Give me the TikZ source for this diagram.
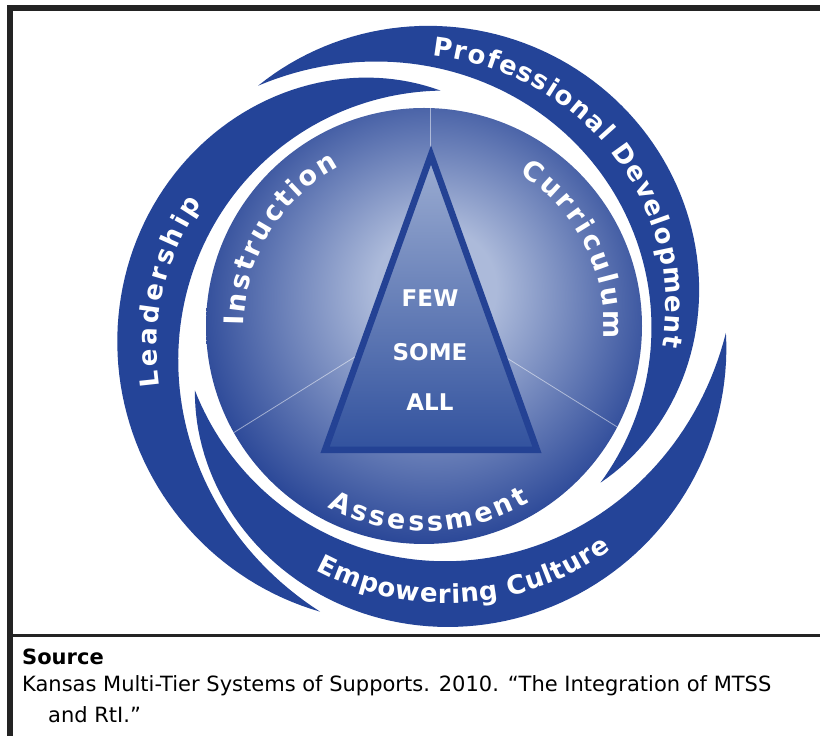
\documentclass[tikz,border=0pt]{standalone}
\usepackage{fontspec}
\setmainfont{DejaVu Sans}
\usetikzlibrary{decorations.text}
\definecolor{bandblue}{RGB}{36,68,152}
\definecolor{discdark}{RGB}{32,62,146}
\definecolor{disclight}{RGB}{172,186,218}
\definecolor{triatop}{RGB}{156,173,210}
\definecolor{triabot}{RGB}{50,82,158}
\definecolor{trialine}{RGB}{36,66,148}
\definecolor{framegray}{RGB}{35,35,35}
\pgfdeclareradialshading{discglow}{\pgfpoint{1.5bp}{5bp}}{color(0bp)=(disclight); color(7bp)=(disclight); color(29bp)=(discdark); color(50bp)=(discdark)}
\newcommand\ringfont{\fontsize{27}{27}\selectfont\bfseries}
\newcommand\bandfont{\fontsize{26}{26}\selectfont\bfseries}
\begin{document}
\begin{tikzpicture}[x=1pt,y=1pt,
    ringtext/.style={decorate,decoration={text along path,text={#1},
        text color=white,text align={fit to path}}},
    tierlabel/.style={text=white,font=\fontsize{23}{23}\selectfont\bfseries}]
  \useasboundingbox[fill=white] (0,0) rectangle (820,736);%

  % frame and caption
  \fill[framegray] (7,0) rectangle (13,731);%
  \fill[framegray] (7,725) rectangle (820,731);%
  \fill[framegray] (13,99) rectangle (820,101.5);%
  \node[anchor=base west,inner sep=0pt,font=\fontsize{21}{25}\selectfont\bfseries] (src) at (22,71) {Source};%
  \node[anchor=base west,inner sep=0pt,font=\fontsize{21}{25}\selectfont] (cite1) at (22,44) {Kansas Multi-Tier Systems of Supports. 2010. “The Integration of MTSS};%
  \node[anchor=base west,inner sep=0pt,font=\fontsize{21}{25}\selectfont] (cite2) at (48,13) {and RtI.”};%

  \begin{scope}[shift={(424,410)}]
    % swoosh bands: start angle / span / start radius / end radius / width
    \foreach \bstart/\bspan/\rbeg/\rend/\bwid in {86/164/236/304/64,195.7/163/238/302/66,-41.6/166.2/236/292/60}
      \fill[bandblue] plot[domain=0:1,samples=90] ({\bstart+\bspan*\x}:{\rbeg+(\rend-\rbeg)*\x+2*\bwid*\x*(1-\x)})
        -- plot[domain=1:0,samples=90] ({\bstart+\bspan*\x}:{\rbeg+(\rend-\rbeg)*\x-2*\bwid*\x*(1-\x)}) -- cycle;%

    % inner disc
    \shade[shading=discglow] (0,0) circle (218);%
    \begin{scope}
      \clip (0,0) circle (218);%
      \foreach \ang in {90,212,328}
        \draw[white,opacity=.5,line width=.8] (6,16) -- ++(\ang:300);%
    \end{scope}

    % pyramid
    \shade[top color=triatop,bottom color=triabot,draw=trialine,line width=6.5,line join=miter]
      (7,171) -- (-99,-124) -- (113,-124) -- cycle;%
    \node[tierlabel] (few) at (6,28) {FEW};%
    \node[tierlabel] (some) at (6,-26) {SOME};%
    \node[tierlabel] (all) at (6,-76) {ALL};%

    % ring labels
    \path[ringtext={|\ringfont|Instruction}] (180:180) arc[start angle=180,end angle=118,radius=180];%
    \path[ringtext={|\ringfont|Curriculum}] (58:180) arc[start angle=58,end angle=-4,radius=180];%
    \path[ringtext={|\ringfont|Assessment}] (242:205) arc[start angle=242,end angle=301,radius=205];%

    % band labels
    \path[ringtext={|\bandfont|Leadership}] plot[domain=0.652:0.396,samples=40] ({86+164*\x}:{236+68*\x-9});%
    \path[ringtext={|\bandfont|Professional Development}] plot[domain=0.781:0.22,samples=60] ({-41.6+166.2*\x}:{236+56*\x-9});%
    \path[ringtext={|\bandfont|Empowering Culture}] plot[domain=0.309:0.701,samples=40] ({195.7+163*\x}:{238+64*\x+9});%
  \end{scope}
\end{tikzpicture}
\end{document}
